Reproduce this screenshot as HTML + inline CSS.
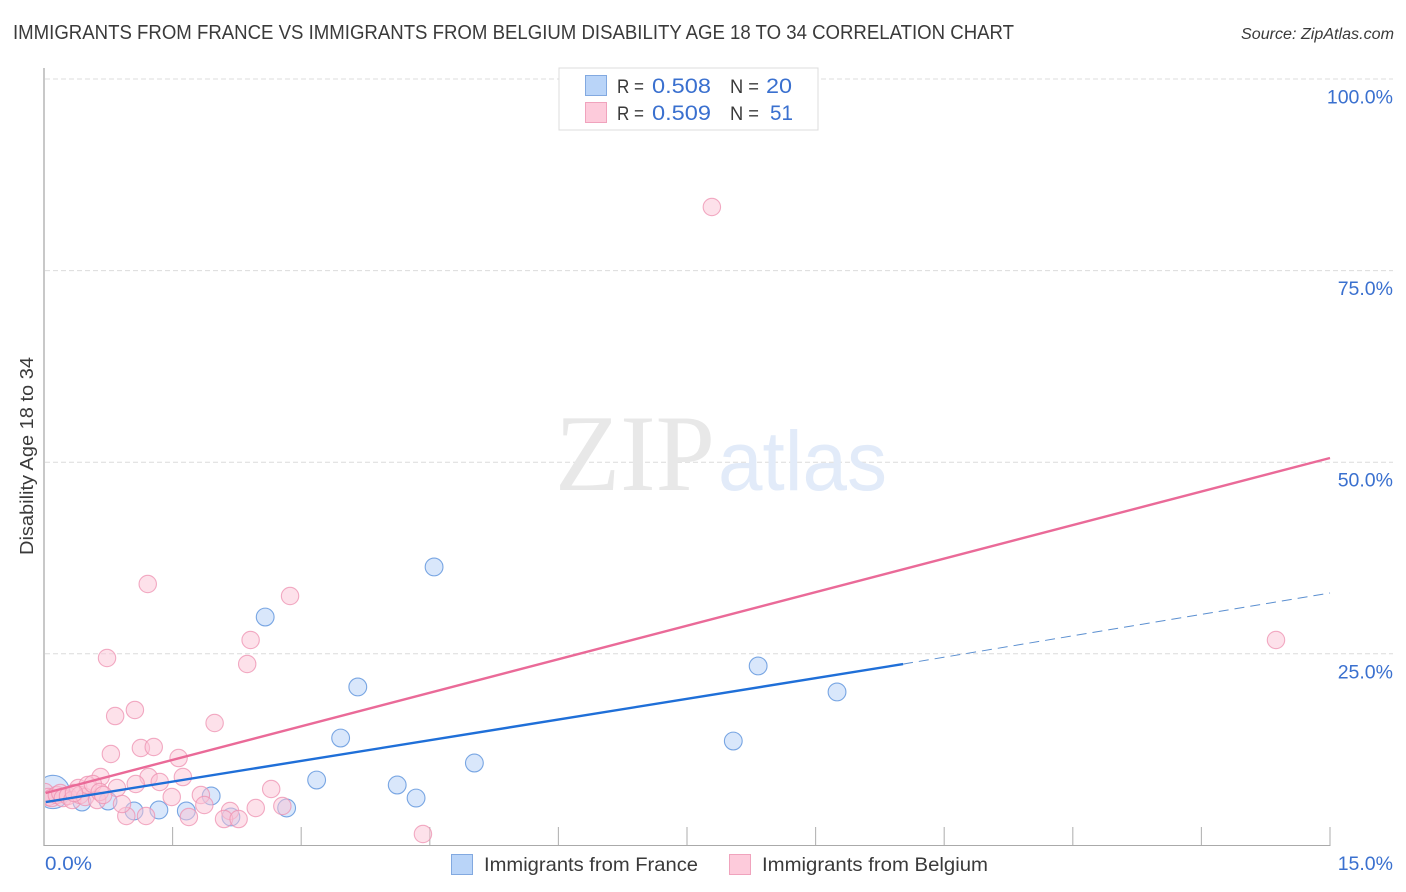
<!DOCTYPE html>
<html lang="en">
<head>
<meta charset="utf-8">
<title>Immigrants from France vs Immigrants from Belgium Disability Age 18 to 34 Correlation Chart</title>
<style>
html,body{margin:0;padding:0;background:#fff;width:1406px;height:892px;overflow:hidden}
svg{display:block}
text{font-family:"Liberation Sans",sans-serif}
</style>
</head>
<body>
<svg id="chart" width="1406" height="892" viewBox="0 0 1406 892" xmlns="http://www.w3.org/2000/svg">
  <defs>
    <clipPath id="plot-clip"><rect x="45" y="60" width="1350" height="785"></rect></clipPath>
  </defs>
  <text x="13" y="39" font-size="20" fill="#3a3a3a" textLength="1001" lengthAdjust="spacingAndGlyphs">IMMIGRANTS FROM FRANCE VS IMMIGRANTS FROM BELGIUM DISABILITY AGE 18 TO 34 CORRELATION CHART</text>
  <text x="1241" y="39" font-size="15.5" font-style="italic" fill="#3a3a3a" textLength="153" lengthAdjust="spacingAndGlyphs">Source: ZipAtlas.com</text>

  <g id="grid"></g>

  <g>
    <text x="555" y="490" font-size="109" fill="#e8e8e8" textLength="160" lengthAdjust="spacingAndGlyphs" style="font-family:'Liberation Serif',serif">ZIP</text>
    <text x="718" y="490" font-size="84" fill="#e2ebf9" textLength="169" lengthAdjust="spacingAndGlyphs">atlas</text>
  </g>

  <g id="axes"></g>
  <g id="points" clip-path="url(#plot-clip)"></g>
  <g id="trends"></g>
  <g id="labels"></g>

  <text transform="translate(33 456) rotate(-90)" font-size="18.5" fill="#3a3a3a" text-anchor="middle" textLength="198" lengthAdjust="spacingAndGlyphs">Disability Age 18 to 34</text>

  <g>
    <rect x="559" y="68" width="259" height="62" fill="#fff" stroke="#dcdcdc" stroke-width="1"></rect>
    <rect x="585.5" y="75.5" width="21" height="20" fill="#b9d4f8" stroke="#82a9e0" stroke-width="1"></rect>
    <rect x="585.5" y="102.5" width="21" height="20" fill="#fdcbdb" stroke="#f0a3bd" stroke-width="1"></rect>
    <text x="617" y="93" font-size="19.5" fill="#3a3a3a" textLength="27" lengthAdjust="spacingAndGlyphs">R =</text>
    <text x="652" y="93" font-size="21" fill="#3a70cf" textLength="59" lengthAdjust="spacingAndGlyphs">0.508</text>
    <text x="730" y="93" font-size="19.5" fill="#3a3a3a" textLength="29" lengthAdjust="spacingAndGlyphs">N =</text>
    <text x="766" y="93" font-size="21" fill="#3a70cf" textLength="26" lengthAdjust="spacingAndGlyphs">20</text>
    <text x="617" y="120" font-size="19.5" fill="#3a3a3a" textLength="27" lengthAdjust="spacingAndGlyphs">R =</text>
    <text x="652" y="120" font-size="21" fill="#3a70cf" textLength="59" lengthAdjust="spacingAndGlyphs">0.509</text>
    <text x="730" y="120" font-size="19.5" fill="#3a3a3a" textLength="29" lengthAdjust="spacingAndGlyphs">N =</text>
    <text x="770" y="120" font-size="21" fill="#3a70cf" textLength="23" lengthAdjust="spacingAndGlyphs">51</text>
  </g>

  <g>
    <rect x="451.5" y="854.5" width="21" height="20" fill="#b9d4f8" stroke="#82a9e0" stroke-width="1"></rect>
    <text x="484" y="871" font-size="19.5" fill="#3a3a3a" textLength="214" lengthAdjust="spacingAndGlyphs">Immigrants from France</text>
    <rect x="729.5" y="854.5" width="21" height="20" fill="#fdcbdb" stroke="#f0a3bd" stroke-width="1"></rect>
    <text x="762" y="871" font-size="19.5" fill="#3a3a3a" textLength="226" lengthAdjust="spacingAndGlyphs">Immigrants from Belgium</text>
  </g>
</svg>
<script>
const xTicks = [0, 1.5, 3, 4.5, 6, 7.5, 9, 10.5, 12, 13.5, 15];
const yGridValues = [100, 75, 50, 25];
const yTickLabels = ["100.0%", "75.0%", "50.0%", "25.0%"];
const xEndLabels = ["0.0%", "15.0%"];

const franceX = [0.105, 0.443, 0.747, 1.05, 1.34, 1.66, 1.95, 2.18, 2.83, 2.58, 3.18, 3.46, 3.66, 4.12, 4.34, 4.55, 5.02, 8.04, 8.33, 9.25];
const franceY = [6.97, 5.66, 5.79, 4.49, 4.62, 4.49, 6.45, 3.71, 4.88, 29.8, 8.53, 14.01, 20.67, 7.88, 6.18, 36.33, 10.75, 13.62, 23.41, 20.02];
const franceWeight = [3.5, 1, 1, 1, 1, 1, 1, 1, 1, 1, 1, 1, 1, 1, 1, 1, 1, 1, 1, 1];

const belgiumX = [0.735, 2.41, 2.37, 1.06, 0.83, 1.99, 0.78, 1.13, 1.28, 1.57, 0.66, 1.22, 1.62, 1.07, 1.35, 0.85, 1.49, 1.83, 1.87, 2.65, 2.47, 2.78, 2.17, 2.10, 2.27, 1.69, 1.19, 0.96, 0.91, 1.21, 2.87, 7.79, 14.37, 4.42, 0.01, 0.05, 0.09, 0.15, 0.19, 0.22, 0.28, 0.33, 0.40, 0.42, 0.48, 0.51, 0.57, 0.62, 0.65, 0.69, 0.35];
const belgiumY = [24.45, 26.80, 23.67, 17.67, 16.88, 15.97, 11.93, 12.71, 12.84, 11.40, 8.92, 8.92, 8.92, 8.01, 8.27, 7.49, 6.32, 6.58, 5.27, 7.36, 4.88, 5.14, 4.49, 3.44, 3.44, 3.71, 3.84, 3.84, 5.40, 34.11, 32.54, 83.30, 26.80, 1.49, 6.97, 6.32, 6.18, 6.58, 6.84, 6.18, 6.45, 5.92, 7.49, 6.58, 6.32, 7.88, 8.01, 5.92, 6.97, 6.58, 6.84];

const franceTrendX = [0.02, 10.02];
const franceTrendY = [5.66, 23.66];
const franceDashX = [10.02, 15];
const franceDashY = [23.66, 32.93];
const belgiumTrendX = [0.02, 15];
const belgiumTrendY = [6.84, 50.55];

const svgNS = "http://www.w3.org/2000/svg";
function xScale(v) { return 44 + (v / 15) * 1286; }
function yScale(v) { return 845.4 - v * 7.664; }
function make(tag, attrs, parent) {
  const el = document.createElementNS(svgNS, tag);
  for (const k in attrs) el.setAttribute(k, attrs[k]);
  parent.appendChild(el);
  return el;
}

const gridG = document.getElementById("grid");
const axesG = document.getElementById("axes");
const labelsG = document.getElementById("labels");
const pointsG = document.getElementById("points");
const trendsG = document.getElementById("trends");

yGridValues.forEach(function (v, i) {
  const line = make("line", { x1: 45, x2: 1393, y1: yScale(v), y2: yScale(v), stroke: "#dcdcdc", "stroke-width": 1, "stroke-dasharray": "5 3" }, gridG);
  
  
  const label = make("text", { x: 1393, y: yScale(v) + 24.5, "font-size": 19.5, fill: "#3a70cf", "text-anchor": "end" }, labelsG);
  label.textContent = yTickLabels[i];
  
  
});

const yAxis = make("line", { x1: 44, x2: 44, y1: 68, y2: 846, stroke: "#aaaaaa", "stroke-width": 1.3 }, axesG);


const xAxis = make("line", { x1: 43.5, x2: 1330.5, y1: 845.5, y2: 845.5, stroke: "#aaaaaa", "stroke-width": 1.1 }, axesG);



xTicks.forEach(function (v) {
  if (v === 0) return;
  const tick = make("line", { x1: xScale(v), x2: xScale(v), y1: 827, y2: 845, stroke: "#b4b4b4", "stroke-width": 1.1 }, axesG);
  
  
});

const xLabelStart = make("text", { x: xScale(xTicks[0]) + 1, y: 870, "font-size": 19.5, fill: "#3a70cf", textLength: 47, lengthAdjust: "spacingAndGlyphs" }, labelsG);
xLabelStart.textContent = xEndLabels[0];


const xLabelEnd = make("text", { x: 1393, y: 870, "font-size": 19.5, fill: "#3a70cf", "text-anchor": "end" }, labelsG);
xLabelEnd.textContent = xEndLabels[1];



franceX.forEach(function (v, i) {
  const c = make("circle", { cx: xScale(v), cy: yScale(franceY[i]), r: 8.9 * Math.sqrt(franceWeight[i]), fill: "#b9d4f8", "fill-opacity": 0.55, stroke: "#5b92dc", "stroke-opacity": 0.8, "stroke-width": 1.1 }, pointsG);
  
  
});
belgiumX.forEach(function (v, i) {
  const c = make("circle", { cx: xScale(v), cy: yScale(belgiumY[i]), r: 8.7, fill: "#fbc3d5", "fill-opacity": 0.5, stroke: "#ee90b0", "stroke-opacity": 0.75, "stroke-width": 1.1 }, pointsG);
  
  
});

const franceTrend = make("line", { x1: xScale(franceTrendX[0]), y1: yScale(franceTrendY[0]), x2: xScale(franceTrendX[1]), y2: yScale(franceTrendY[1]), stroke: "#1f6fd8", "stroke-width": 2.4 }, trendsG);


const franceDash = make("line", { x1: xScale(franceDashX[0]), y1: yScale(franceDashY[0]), x2: xScale(franceDashX[1]), y2: yScale(franceDashY[1]), stroke: "#5b8fd0", "stroke-width": 1, "stroke-dasharray": "10 6" }, trendsG);


const belgiumTrend = make("line", { x1: xScale(belgiumTrendX[0]), y1: yScale(belgiumTrendY[0]), x2: xScale(belgiumTrendX[1]), y2: yScale(belgiumTrendY[1]), stroke: "#ea6a98", "stroke-width": 2.4 }, trendsG);


</script>
</body>
</html>
